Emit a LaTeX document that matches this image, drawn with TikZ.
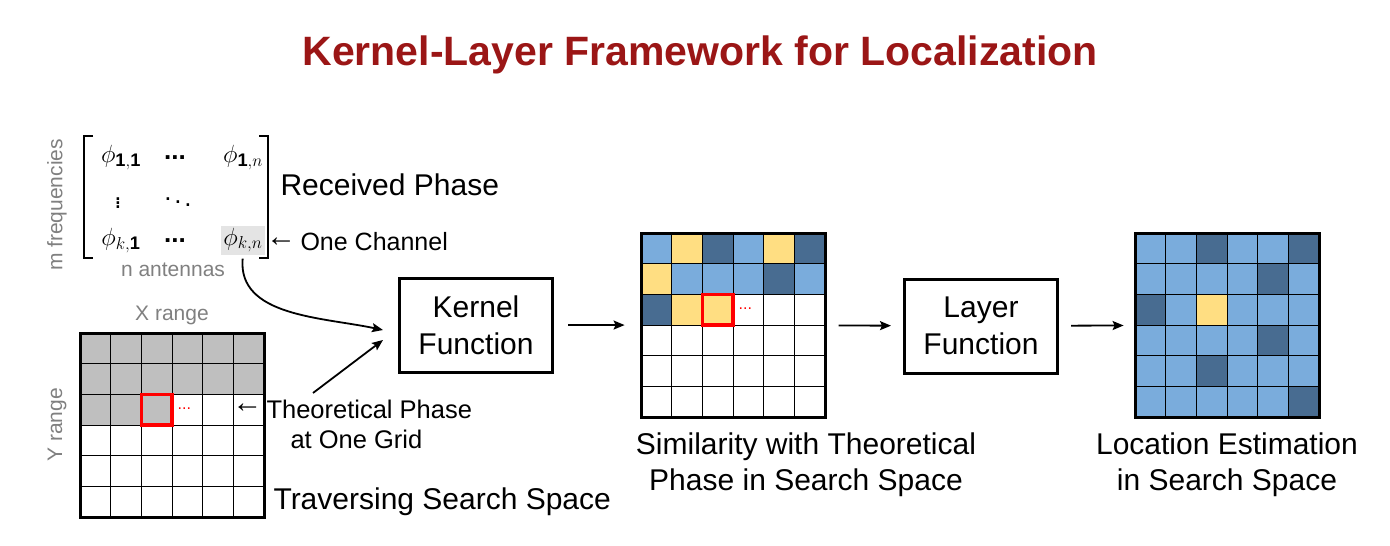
\documentclass[tikz,border=0pt]{standalone}
\usepackage{fontspec}
\setmainfont{Liberation Sans}
\usepackage{amsmath}
\usepackage{amssymb}
\usepackage{tikz}
\usetikzlibrary{arrows}
\usetikzlibrary{arrows.meta}
\usetikzlibrary{shapes}
\usetikzlibrary{calc}

\definecolor{titlered}{RGB}{155,22,22}
\definecolor{lightblue}{RGB}{122,172,220}
\definecolor{darkblue}{RGB}{72,108,145}
\definecolor{paleyellow}{RGB}{255,222,130}
\definecolor{cellgrey}{RGB}{191,191,191}
\definecolor{labelgrey}{RGB}{128,128,128}
\definecolor{chanbg}{RGB}{228,228,228}

\begin{document}
\begin{tikzpicture}[>={Stealth[length=11pt, width=9pt, inset=2pt]}, x=1pt, y=-1pt]
    \tikzstyle{funcbox} = [draw, line width=3pt, minimum width=153pt,
	minimum height=94pt, align=center, inner sep=0pt,
	font=\fontsize{30}{37}\selectfont]
    \tikzstyle{gridframe} = [draw, line width=3pt, minimum size=184pt,
	inner sep=0pt]
    \tikzstyle{bigtext} = [font=\fontsize{30}{36}\selectfont, align=center]
    \tikzstyle{midtext} = [font=\fontsize{25.5}{30}\selectfont, align=left]
    \tikzstyle{greytext} = [text=labelgrey, font=\fontsize{21}{24}\selectfont]
    \tikzstyle{entry} = [font=\fontsize{26}{30}\selectfont, inner sep=1pt]
    \tikzstyle{reddots} = [text=red, font=\fontsize{16}{18}\selectfont]
    \tikzstyle{pointy} = [font=\fontsize{30}{30}\selectfont, inner sep=0pt]
    \tikzstyle{cellline} = [line width=1.2pt]
    \tikzstyle{pick} = [draw=red, line width=3.5pt]
    \tikzstyle{flow} = [->, line width=1.8pt]

	\useasboundingbox (0,0) rectangle (1390,546);

	\node[font=\fontsize{41}{48}\selectfont\bfseries, text=titlered] (title)
		at (700,55) {Kernel-Layer Framework for Localization};

	% received phase matrix
	\draw[line width=2.5pt] (93,136) -- (84,136) -- (84,258) -- (93,258);
	\draw[line width=2.5pt] (259,136) -- (268,136) -- (268,258) -- (259,258);
	\path
		node[entry] (phi11) at (121,158) {$\phi_{\mathbf{1,1}}$}
		node[entry] (dotsa) at (175,158) {\textbf{...}}
		node[entry] (phi1n) at (243,158) {$\phi_{\mathbf{1},n}$}
		node[entry] (vdots) at (118,200) {$\boldsymbol{\vdots}$}
		node[entry] (ddots) at (178,199) {$\ddots$}
		node[entry] (phik1) at (121,241) {$\phi_{k,\mathbf{1}}$}
		node[entry] (dotsb) at (175,241) {\textbf{...}}
		node[entry, fill=chanbg, minimum width=44pt, minimum height=29pt]
			(phikn) at (243,240) {$\phi_{k,n}$}
	;
	\node[bigtext, anchor=base west] (received) at (277,195) {Received Phase};
	\node[pointy] (chanarrow) at (281,242) {←};
	\node[midtext, anchor=base west, font=\fontsize{25}{30}\selectfont]
		(channel) at (297,250) {One Channel};
	\node[greytext] (antennas) at (173,270) {n antennas};
	\node[greytext, rotate=90] (freqs) at (57,205) {m frequencies};

	% traversing search space
	\node[greytext] (xrange) at (172,315) {X range};
	\node[greytext, rotate=90] (yrange) at (57,425) {Y range};
	\begin{scope}[shift={(80,333)}, x=30.7pt, y=-30.7pt]
		\fill[cellgrey] (0,0) rectangle (6,2);
		\fill[cellgrey] (0,2) rectangle (3,3);
		\foreach \k in {1,...,5} {
			\draw[cellline] (\k,0) -- (\k,6);
			\draw[cellline] (0,\k) -- (6,\k);
		}
		\draw[pick] (2,2) rectangle (3,3);
		\node[reddots] (trailA) at (3.4,2.45) {...};
		\node[pointy] (pointer) at (5.45,2.45) {←};
		\node[gridframe] (space) at (3,3) {};
	\end{scope}
	\node[midtext, anchor=north west] (theo) at (263,396)
		{Theoretical Phase\\\hspace*{24pt}at One Grid};
	\node[bigtext, anchor=base west] (traverse) at (270,509)
		{Traversing Search Space};

	% functions
	\node[funcbox] (kernel) at (476,325) {Kernel\\Function};
	\node[funcbox] (layer) at (981,326) {Layer\\Function};

	% similarity
	\begin{scope}[shift={(641,233)}, x=30.7pt, y=-30.7pt]
		\fill[lightblue] (0,0) rectangle (6,2);
		\foreach \c/\r in {2/0,5/0,4/1,0/2}
			\fill[darkblue] (\c,\r) rectangle ++(1,1);
		\foreach \c/\r in {1/0,4/0,0/1,1/2,2/2}
			\fill[paleyellow] (\c,\r) rectangle ++(1,1);
		\foreach \k in {1,...,5} {
			\draw[cellline] (\k,0) -- (\k,6);
			\draw[cellline] (0,\k) -- (6,\k);
		}
		\draw[pick] (2,2) rectangle (3,3);
		\node[reddots] (trailB) at (3.4,2.45) {...};
		\node[gridframe] (simgrid) at (3,3) {};
	\end{scope}
	\node[bigtext] (simtext) at (806,465)
		{Similarity with Theoretical\\Phase in Search Space};

	% location
	\begin{scope}[shift={(1135,233)}, x=30.7pt, y=-30.7pt]
		\fill[lightblue] (0,0) rectangle (6,6);
		\foreach \c/\r in {2/0,5/0,4/1,0/2,4/3,2/4,5/5}
			\fill[darkblue] (\c,\r) rectangle ++(1,1);
		\fill[paleyellow] (2,2) rectangle ++(1,1);
		\foreach \k in {1,...,5} {
			\draw[cellline] (\k,0) -- (\k,6);
			\draw[cellline] (0,\k) -- (6,\k);
		}
		\node[gridframe] (locgrid) at (3,3) {};
	\end{scope}
	\node[bigtext] (loctext) at (1227,465)
		{Location Estimation\\in Search Space};

	% connectors
	\draw[flow, shorten <=4pt] (phikn.south) to[out=-95, in=168]
		([xshift=-15pt, yshift=-5pt]kernel.west);
	\draw[flow] ([xshift=50pt, yshift=3pt]theo.north west) --
		([xshift=-15pt, yshift=-15pt]kernel.west);
	\draw[flow, shorten <=14pt, shorten >=15pt] (kernel) -- (simgrid);
	\draw[flow, shorten <=12pt, shorten >=12pt] (simgrid) -- (layer);
	\draw[flow, shorten <=12pt, shorten >=10pt] (layer) -- (locgrid);
\end{tikzpicture}
\end{document}
